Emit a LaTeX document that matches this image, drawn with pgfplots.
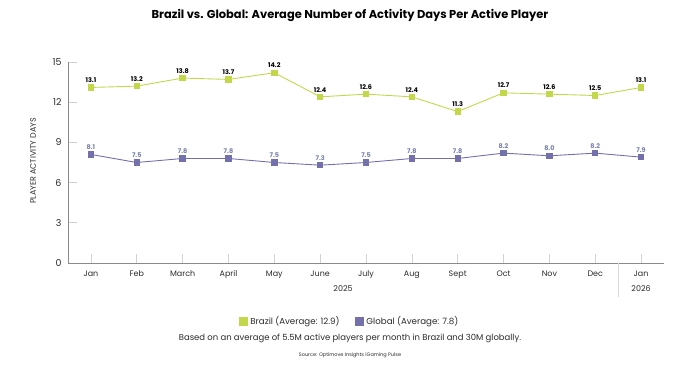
\documentclass[border=0pt]{standalone}
\usepackage{fontspec}
\setmainfont{Poppins}
\usepackage{pgfplots}
\pgfplotsset{compat=1.18}
\definecolor{brgreen}{HTML}{C3D74B}
\definecolor{glpurple}{HTML}{7470AC}
\definecolor{gllabel}{HTML}{7880AE}
\definecolor{axgray}{HTML}{8A8A8A}
\definecolor{txt}{HTML}{2B2B2B}
\begin{document}
\begin{tikzpicture}
\path[use as bounding box] (0,0) rectangle (700bp,372bp);
\node[font=\bfseries\fontsize{11.5}{13}\selectfont, text=black] at (350bp,357bp) {Brazil vs. Global: Average Number of Activity Days Per Active Player};
\node[rotate=90, font=\fontsize{8}{9}\selectfont, text=txt] at (33bp,211bp) {PLAYER ACTIVITY DAYS};
\begin{axis}[
  at={(68bp,109bp)}, anchor=south west,
  scale only axis, width=596bp, height=201bp,
  xmin=-0.5, xmax=12.5, ymin=0, ymax=15,
  axis x line=bottom, axis y line=left,
  axis line style={draw=axgray, line width=0.9bp, -},
  xtick={0,...,12},
  xticklabels={Jan,Feb,March,April,May,June,July,Aug,Sept,Oct,Nov,Dec,Jan},
  ytick={0,3,...,15},
  tick align=inside,
  major tick length=9bp,
  x tick style={draw=gray!35, line width=0.7bp},
  y tick style={draw=gray!35, line width=0.7bp},
  xticklabel style={font=\fontsize{8}{9}\selectfont, text=txt, yshift=-4bp},
  yticklabel style={font=\fontsize{9.5}{10}\selectfont, text=txt, xshift=-3bp},
  /pgf/number format/assume math mode=true,
  clip=false,
  nodes near coords,
  nodes near coords style={font=\bfseries\fontsize{6.5}{7}\selectfont, /pgf/number format/fixed, /pgf/number format/fixed zerofill, /pgf/number format/precision=1},
  legend style={at={(0.473,-0.289)}, anchor=center, draw=none, legend columns=2,
    font=\fontsize{8.7}{10}\selectfont, text=txt, column sep=0bp,
    /tikz/every node/.append style={inner xsep=2.5bp}},
]
\addplot[brgreen, line width=0.9bp, mark=square*, mark size=2.7bp, mark options={fill=brgreen, draw=brgreen},
  every node near coord/.append style={text=black, yshift=1bp},
  legend image code/.code={\fill[brgreen] (0bp,-4bp) rectangle (8bp,4bp);}]
  coordinates {(0,13.1)(1,13.2)(2,13.8)(3,13.7)(4,14.2)(5,12.4)(6,12.6)(7,12.4)(8,11.3)(9,12.7)(10,12.6)(11,12.5)(12,13.1)};
\addlegendentry{Brazil (Average: 12.9)}
\addplot[glpurple, line width=0.9bp, mark=square*, mark size=2.7bp, mark options={fill=glpurple, draw=glpurple},
  every node near coord/.append style={text=gllabel, yshift=1bp},
  legend image code/.code={\path (0bp,0bp); \fill[glpurple] (13bp,-4bp) rectangle (21bp,4bp);}]
  coordinates {(0,8.1)(1,7.5)(2,7.8)(3,7.8)(4,7.5)(5,7.3)(6,7.5)(7,7.8)(8,7.8)(9,8.2)(10,8.0)(11,8.2)(12,7.9)};
\addlegendentry{Global (Average: 7.8)}
\draw[gray!30, line width=0.7bp] (axis cs:11.5,0) -- ([yshift=-34bp]axis cs:11.5,0);
\node[font=\fontsize{8}{9}\selectfont, text=txt] at ([yshift=-26bp]axis cs:5.5,0) {2025};
\node[font=\fontsize{8}{9}\selectfont, text=txt] at ([yshift=-26bp]axis cs:12,0) {2026};
\end{axis}
\node[font=\fontsize{8.5}{10}\selectfont, text=txt] at (350bp,34bp) {Based on an average of 5.5M active players per month in Brazil and 30M globally.};
\node[font=\fontsize{5}{6}\selectfont, text=txt] at (350bp,17bp) {Source: Optimove Insights iGaming Pulse};
\end{tikzpicture}
\end{document}
